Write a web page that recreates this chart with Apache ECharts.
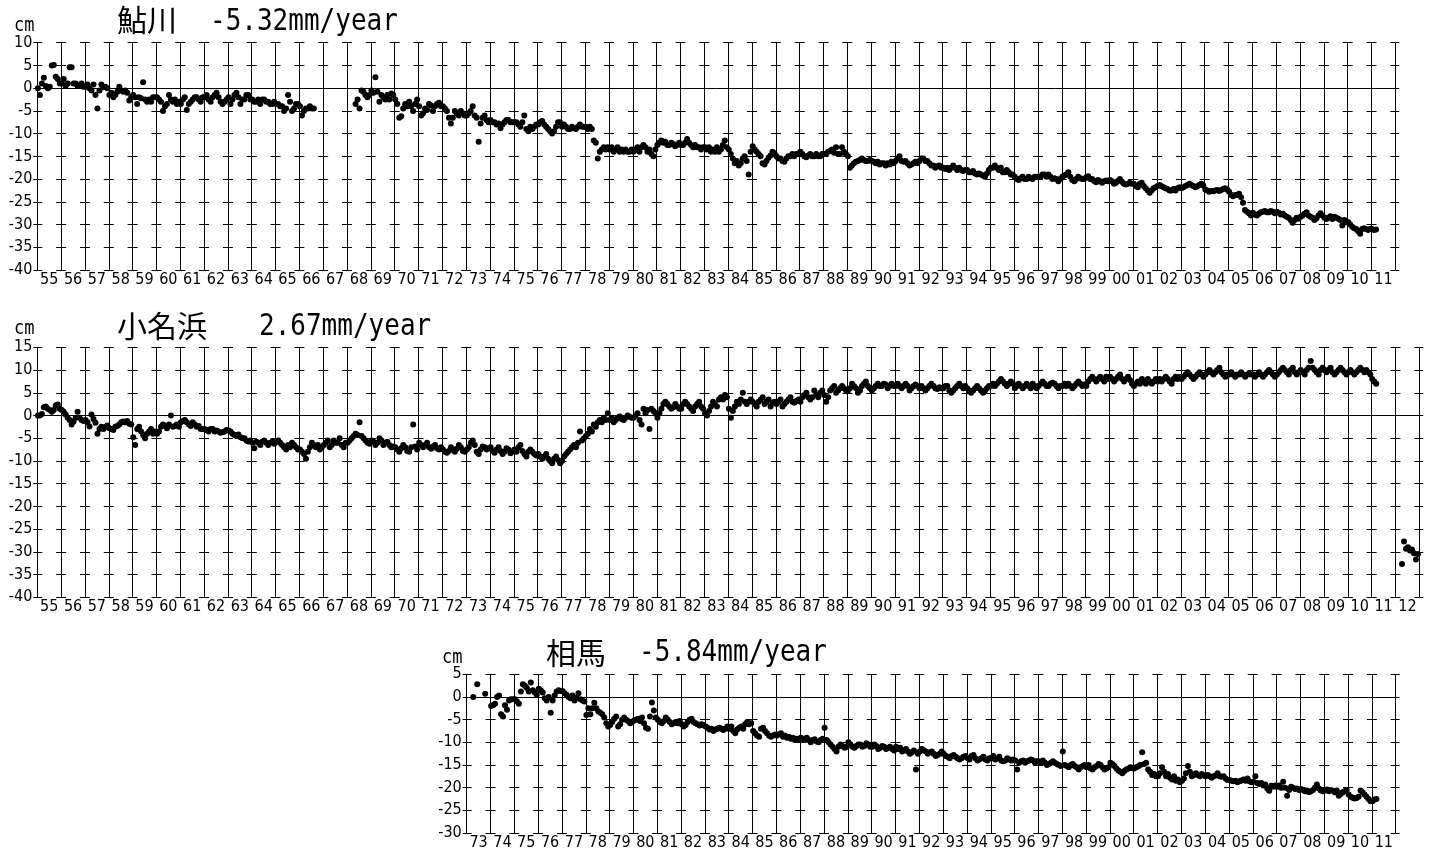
<!DOCTYPE html>
<html><head><meta charset="utf-8">
<script src="https://cdn.jsdelivr.net/npm/echarts@6/dist/echarts.min.js"></script>
<style>html,body{margin:0;padding:0;background:#fff}#c{width:1432px;height:854px}</style>
</head><body><div id="c"></div>
<script>
// ---------- DATA: monthly mean sea level (cm), one row per year ----------
const ayukawaStart = 1955;
const ayukawa = [
[0,-1.5,1,2.3,0.5,0,0.3,5,5.1,2.5,2,1],
[1,2,0.5,1,4.6,4.6,1,1,0.5,0.7,1,0.3],
[0.3,0.8,0,-0.5,0.8,-1.5,-4.5,-0.5,0.8,0.2,0.3,0],
[-1.5,-1,-2,-1.5,-0.8,0.3,-0.5,-0.8,-0.5,-1,-2.7,-2],
[-1.5,-2,-3.5,-2,-2.2,1.3,-2.5,-3,-2.5,-3,-2,-2],
[-2,-2.5,-3,-5,-4,-3.5,-1.5,-2.5,-3,-2.5,-3.5,-3],
[-3.5,-2.5,-2,-4.8,-3.5,-3,-2.5,-2,-2,-2.5,-3,-2],
[-2,-1.5,-2.5,-3,-2,-1.5,-1,-2,-3,-3.5,-3,-2.5],
[-2,-3.5,-2.5,-1.5,-1,-2,-3.5,-2.5,-2.5,-1.5,-1.5,-2.5],
[-2.5,-3,-3,-2.5,-3.5,-2.5,-2.5,-3,-3,-3.5,-3.5,-3],
[-3.5,-3.5,-4,-4,-5,-4.5,-1.5,-3,-5,-4.5,-3.5,-3.5],
[-4,-6,-5,-4.5,-4.5,-4,-4.5,-4.5,null,null,null,null],
[null,null,null,null,null,null,null,null,null,null,null,null],
[null,null,null,null,-3.5,-2.5,-4.5,-0.5,-0.8,-1.5,-2,-1.5],
[-0.5,-1,2.4,-0.8,-3,-1.5,-2,-2.5,-1.5,-2.5,-1.2,-1.5],
[-2.5,-3.5,-6.5,-6.2,-4.5,-3.5,-4,-3,-4,-5,-3.5,-2.5],
[-4,-6,-5.5,-4.5,-4.8,-3.5,-3.8,-5,-4,-3.5,-3.2,-4],
[-4,-4.5,-5,-6.5,-7.8,-6.5,-5,-5.5,-6,-5,-5.5,-6],
[-6,-5.5,-5,-4,-6,-6.5,-11.8,-7.8,-6.5,-6,-7,-7.5],
[-7,-7.5,-7.5,-8,-7.8,-8.8,-8,-7.5,-7,-7,-7.5,-7.5],
[-7.5,-7.5,-8,-8.5,-7.5,-6,-9,-9.5,-8.5,-9,-8.5,-8],
[-8,-7.5,-7.2,-8,-8.5,-9,-9.5,-10,-9.5,-8.5,-7.5,-7.5],
[-8.5,-8,-8.5,-9,-9,-8.5,-8.8,-9,-8.5,-8,-8.5,-8.5],
[-8.5,-9,-8.5,-9,-11.5,-12,-15.5,-14,-13.5,-13,-13.5,-13],
[-13.5,-13,-14,-13.5,-13,-14,-13.5,-14,-13.5,-14,-14,-13.5],
[-14,-13.5,-13,-14,-13,-12.5,-13,-14,-13.5,-14.5,-15,-13.5],
[-12.5,-12,-11.5,-12,-11.8,-12.5,-12.5,-12,-12.3,-12.8,-12.5,-12],
[-12.5,-12.5,-12,-11.2,-12,-12.5,-13,-12.5,-13,-13,-13.5,-13],
[-13,-13.5,-13,-14,-13.5,-14,-13,-14,-13.5,-12.5,-11.5,-13],
[-13.5,-14.5,-15.5,-16.5,-16,-17,-16.5,-15.5,-15,-16,-19,-14],
[-12.8,-13.5,-14,-14.5,-15,-16.5,-16.8,-16,-15.3,-14.8,-14,-14.3],
[-15,-15.5,-15.5,-16,-16.2,-15.5,-15,-15,-14.5,-15,-14.5,-14.5],
[-14,-14.5,-15,-15.2,-14.8,-14.5,-15,-15,-14.5,-15,-15,-14.5],
[-14.5,-14.5,-14,-13.8,-13.5,-14.2,-13,-14.5,-14.5,-13,-14,-14.5],
[-15,-17.5,-17,-16.5,-16.2,-16,-15.8,-15.5,-15.8,-16,-16,-15.8],
[-16,-16.2,-16.5,-16.2,-16.8,-16.5,-16.5,-17,-16.5,-16.8,-16.2,-16.5],
[-16,-15.5,-15,-16,-16.2,-16,-16.5,-17,-16.8,-16.5,-16.2,-16.5],
[-16,-15.5,-15.5,-16,-16,-16.5,-17,-17,-17.5,-17.2,-17,-17.5],
[-17.5,-17.8,-17.5,-18,-17.5,-17,-17.5,-18,-17.5,-18,-18.2,-18],
[-18,-18.5,-18.5,-18.2,-18.8,-19,-18.8,-19,-19.2,-19.5,-18.8,-18],
[-17.5,-17.5,-17,-17.5,-18,-17.5,-18.5,-18.5,-18,-18.5,-19,-19],
[-19.5,-20,-20.2,-19.8,-19.5,-20,-20,-19.5,-19.8,-20,-19.5,-19.5],
[-19.5,-19.5,-19,-19,-19.5,-19,-19.5,-20,-19.8,-20,-20.5,-20],
[-19.5,-19.2,-19,-18.5,-19.5,-20.2,-20.5,-20,-19.5,-19.8,-20,-20],
[-19.6,-19.4,-20,-20,-20.4,-20.7,-20.2,-20.5,-20.8,-20.5,-20.3,-20.5],
[-20.2,-20.5,-21,-20.8,-20.4,-20,-20.6,-21,-21.2,-21,-20.8,-21],
[-21,-21.5,-21.8,-21,-20.8,-21.5,-22,-22.5,-23,-22.5,-22,-21.8],
[-21.5,-21.3,-21.6,-21.8,-22,-22.2,-22.5,-22.5,-22.2,-22.5,-22,-21.8],
[-22,-21.8,-21.5,-21.3,-21,-21.3,-21.5,-21.8,-21.6,-21.3,-21,-21.4],
[-22.3,-22.5,-22.8,-22.6,-22.7,-22.5,-22.4,-22.6,-22.4,-22.2,-22,-22.3],
[-22.8,-23.5,-23.8,-23.5,-23.5,-23.2,-24,-25.2,-26.8,-27.2,-27.5,-28],
[-27.4,-27.8,-28,-27.6,-27.3,-27.2,-27,-27.3,-27.3,-27,-27.2,-27.5],
[-27.2,-27.4,-27.8,-27.6,-28,-28.3,-28.5,-29,-29.6,-29,-28.5,-28.7],
[-28.3,-28,-27.6,-27.3,-28,-28.3,-28.5,-29,-28.6,-28,-27.5,-28],
[-28.5,-28.8,-28.5,-28.2,-28.8,-28.3,-28.5,-28.7,-29,-30.2,-29,-29.5],
[-29.5,-30,-30.5,-30.8,-31,-31.5,-32,-31,-30.8,-31,-31.2,-31],
[-31,-31.2,-31.1]
];
const onahamaStart = 1955;
const onahama = [
[0,0,0.3,1.8,2,1.5,1.2,0.8,1.2,2.2,2.4,1.5],
[1.2,0.8,0.2,-0.5,-1,-2,-1.3,-0.5,0.8,-0.5,-1,-1.2],
[-1,-1.5,-2.4,0.2,-0.8,-1.6,-4,-3,-2.5,-3,-2.5,-2.2],
[-2.8,-3,-3.2,-2.5,-2.3,-2,-1.5,-1.3,-1.5,-1.2,-1.8,-2],
[-4.8,-6.5,-3,-2.5,-3.5,-4.3,-5,-4,-3.5,-3,-4,-3.5],
[-4,-3.5,-2.5,-2,-2.3,-2.8,-2,0,-2.5,-2.3,-2,-2.5],
[-1.5,-1.2,-1,-1.5,-2,-2.3,-1.5,-2,-2.5,-2.3,-3,-3],
[-3,-3.2,-3.5,-3,-3,-3.5,-3.3,-3.5,-3.8,-3.7,-3.5,-3.2],
[-3.3,-3.5,-4,-4.3,-4.5,-4.2,-4.8,-5,-5,-5.5,-5.7,-5.5],
[-6,-7.2,-5.8,-6,-6.5,-5.8,-5.5,-6,-6.5,-6,-5.8,-6.2],
[-5.8,-5.5,-6,-6.5,-7,-7.5,-6.5,-7,-6,-6.5,-7,-7.5],
[-7.5,-8,-8.5,-9.5,-8,-7,-6,-6.5,-7,-6.5,-7.5,-7],
[-6.5,-6,-5.5,-7,-6.5,-5.5,-6,-6,-5,-6.5,-7,-6],
[-6,-5.5,-5,-4.5,-4,-4.3,-1.5,-4.5,-5,-5.5,-6,-6.2],
[-5.5,-5.8,-6.5,-6,-5,-5.5,-6.5,-6,-5.8,-6.5,-7,-6.8],
[-7,-7.5,-8,-7.2,-6.5,-7,-7.8,-8,-7,-2,-6.8,-7.5],
[-6,-6.5,-7,-6.5,-6,-7,-7.3,-6.8,-6.5,-7.2,-7.5,-7],
[-7.5,-8,-8.2,-7.8,-7,-7.5,-8,-7.3,-6.5,-7,-7.8,-8],
[-7.5,-7,-6,-5.5,-6.5,-8,-8.5,-7.5,-6.8,-7,-7.5,-7.2],
[-7,-7.8,-8.2,-7.5,-7,-7.8,-8.5,-8,-7.2,-7.5,-8.3,-8],
[-7.5,-8,-7,-6.5,-7.8,-8.5,-9,-8,-7.5,-8,-8.5,-8.8],
[-8.5,-9,-9.5,-9,-8.5,-9.5,-10,-10.5,-9.5,-9,-9.8,-10.5],
[-10,-9,-8.5,-8,-7.5,-7,-6.5,-7,-6,-3.5,-5.5,-5],
[-4.5,-4,-3,-3.5,-2,-2.5,-1.5,-1,-1.5,-0.5,-1,0.5],
[-1,-0.5,-1.5,-1,-0.5,-0.2,-0.8,-1,-0.5,0,-0.3,-0.5],
[-0.5,0,0.5,-1,-2,1.5,0.5,1.2,-3,1.5,1,0.5],
[-0.5,0.5,1.5,2.5,3,2.5,2,1.5,1.8,2.5,2,1.5],
[1.5,2.5,3,2.5,2,1.5,1,2,2.5,3,2,1.5],
[0.5,0,1,2,3,2.5,2,3.5,4,3.5,4.5,4],
[1.5,-0.5,1,2,3,2.5,3.5,5,3,2.5,3,3.5],
[3,2.5,2,3,3.5,4,2.5,3,3.5,2,2.8,3],
[2.5,3,3.5,2,2.5,3,3.5,4,3,2.8,3.2,3.5],
[3,4,4.5,5,4,3.5,4,5.5,4.5,4,5,5.5],
[4.5,3,4,5.5,6,6.5,5,5.5,6,6.5,6,5.5],
[5.5,6,7,6.5,6,5,5.5,6.5,7,7.5,6.5,6],
[5.5,6,6.5,7,6.5,6.5,7,6.8,6,6.5,7,6.5],
[6.5,7,6.5,6,6.5,7,6.5,5.5,6,6.5,6.8,6.5],
[6,6.5,6,5.5,6,6.5,7,6.5,6,5.8,6.2,6],
[6,6.5,6.5,5.5,5,5.5,6,6.5,7,6.5,6,6.5],
[6,5.5,5,5.5,6,6.5,6,5.5,5,5.5,6,6.5],
[6.5,7,6.5,7,7.5,8,7.5,7,6.5,7,7.5,7],
[6,6.5,7,6.5,6,6.5,7,6.5,6,7,6.5,6],
[6.5,7,7.5,7,6.5,6.5,7,7.2,7,6.5,6,6.5],
[6.5,7,6.5,7,6.5,6,6.5,7,7.5,7,6.5,6.8],
[6.5,7.5,8,8.5,8,7.5,8,8.5,8,7.5,8.5,8],
[8.5,8,7.5,8,8.5,9,8,7.5,8,8.5,7.8,7],
[6.5,7,7.5,7,8,7.5,7,8,7.5,7,7.5,8],
[7.5,8,7.5,8,8.5,8,7.5,7,8,8.5,8,8.5],
[8,8.5,9,9.5,9,8.5,8,8.5,9,9.5,9,8.5],
[9,9.5,10,9.5,9,9.5,10,10.5,9.5,9,8.5,9],
[9,9.5,9,8.5,9,9,9.5,9,8.5,9,9.2,9],
[9,8.5,9,9.5,9,8.5,9,9.5,10,9.5,9,8.5],
[9,9.5,10,10.5,10,9.5,9,10,10.5,9.5,9,9.5],
[10,9.5,9,10,10.5,12,10.5,10,9.5,9,10,10.5],
[10,9.5,10,10.5,9.5,9,9.5,10,10.5,10,9.5,9],
[9.5,10,9.5,9,9.5,10,10.5,10,9.5,10,9.5,9],
[8,7.5,7],
[null,null,null,-32.7,-27.7,-29.3,-29,-29.7,-29.5,-30.3,-31.7,-30.5]
];
const somaStart = 1973;
const soma = [
[null,null,null,0,null,2.8,null,null,null,0.7,null,null],
[-2,-1.8,-1.5,0,0.3,-3.8,-4.3,-1.8,-2.8,-0.8,-0.5,-0.5],
[-0.5,-1,-1.5,1.2,2.8,2.5,2,1.2,3.2,1.5,1,0.5],
[1.8,1.5,1,-0.3,-0.8,0,-3.5,-0.8,0.3,1.2,1.5,1.3],
[1.3,0.8,0.5,0,-0.3,0.3,-0.8,-0.2,0.8,-0.5,-0.8,-1],
[-4,-2.5,-3.8,-2.5,-1.3,-2.5,-3.2,-3.5,-3.8,-4.5,-5.8,-6.5],
[-6.2,-5.5,-4.8,-4.3,-6.5,-6,-5,-4.5,-5,-5.3,-5.8,-5.5],
[-5.2,-5,-4.8,-5.3,-4.5,-5.8,-6.8,-7,-4.3,-1.2,-3,-4.5],
[-5,-5.5,-5.8,-5.3,-4.5,-5,-5.5,-6,-5.8,-5.5,-5.8,-5.3],
[-6,-6.5,-6.2,-5.5,-5,-4.8,-5.5,-5.8,-6,-6.3,-6,-6.2],
[-6.5,-6.8,-7.2,-7,-7.5,-7.2,-7,-6.8,-7,-7.3,-7,-6.5],
[-7,-6.5,-7.5,-8,-7.2,-6.8,-6.5,-7,-6,-5.5,-6,-5.8],
[-7.5,-8,-8.5,-8.8,-7,-6.8,-7.5,-8,-8.5,-8.8,-8.5,-8.3],
[-8.5,-8.2,-8,-8.8,-8.5,-9,-8.8,-9.2,-9,-9.5,-9.2,-9.5],
[-9,-9.2,-9.5,-9,-9.5,-10,-9.5,-9.3,-9.8,-10,-9.5,-9.2],
[-6.8,-9.5,-10,-10.5,-11,-11.5,-12,-11,-10.5,-10.8,-11.2,-11],
[-10,-10.5,-11,-11.2,-10.8,-10.5,-10.5,-11,-10.8,-10.2,-10.5,-11],
[-11,-10.5,-10.8,-11.5,-11.2,-10.8,-11,-11.5,-11.2,-11,-11.5,-11.8],
[-11,-11.5,-11.2,-12,-11.8,-11.5,-12,-12.5,-12.2,-11.8,-16,-12.5],
[-12,-11.5,-11.8,-12,-12.5,-12.2,-12,-12.5,-13,-12.8,-12.5,-12],
[-12.5,-13,-13.2,-13.5,-13,-12.8,-13.2,-13.5,-13.8,-13.5,-13.2,-13],
[-13.5,-13.8,-13,-12.8,-13.5,-14,-13.8,-13.5,-13.2,-13.8,-14,-13.5],
[-13.5,-13,-13.8,-13.5,-13.2,-14,-14.2,-14,-13.5,-13.8,-14,-13.8],
[-14,-16,-14.5,-14.2,-14,-14.5,-14.2,-14,-13.8,-14,-14.5,-14.2],
[-14.2,-14.5,-14,-14.5,-15,-14.8,-14.5,-14.2,-14.5,-14.8,-15,-15.2],
[-12,-15,-15.2,-15.5,-15,-14.8,-15.2,-15.5,-16,-15.5,-15.2,-15],
[-15.5,-15,-15.8,-16,-15.5,-15.2,-14.8,-15,-15.5,-16,-15.8,-15.5],
[-14.5,-14.8,-15.2,-15.8,-16.2,-16.5,-16.8,-16.3,-16,-15.8,-15.5,-15.7],
[-15.8,-15.5,-15.3,-15,-12.2,-14.8,-14.5,-16,-16.5,-17.2,-17,-17.5],
[-17.5,-16.8,-15.5,-16.5,-17.5,-17,-17.8,-18.2,-17.5,-18.5,-18.2,-18.8],
[-18.5,-18,-16.8,-15.2,-16.5,-17.5,-17.2,-16.8,-17.2,-17.5,-17,-17.3],
[-17.5,-17.2,-17.5,-17.8,-17.5,-17.3,-16.8,-17.5,-17.6,-17.5,-18,-18.3],
[-18.3,-18.5,-18.6,-18.5,-18.8,-18.6,-18.4,-18.2,-18.5,-18,-18.6,-18.8],
[-18.7,-17.5,-19,-19.2,-19,-19.5,-19.3,-20.2,-20.7,-19.6,-19.8,-19.5],
[-19.8,-19.5,-20,-18.7,-20,-21.8,-20.5,-19.8,-20,-20.3,-20.2,-20.5],
[-20.3,-20.5,-20.8,-20.6,-21,-20.8,-20.5,-20,-19.3,-20.2,-20.6,-20.8],
[-20.6,-20.4,-20.8,-20.5,-20.7,-21,-20.6,-21.8,-21.4,-21,-20.8,-20.5],
[-21.5,-22,-22.2,-22.4,-22.3,-22,-20.6,-21,-21.5,-22,-22.5,-23],
[-23,-22.6,-22.5]
];
// tick labels
const ayukawaLabels = ['55','56','57','58','59','60','61','62','63','64','65','66','67','68','69','70','71','72','73','74','75','76','77','78','79','80','81','82','83','84','85','86','87','88','89','90','91','92','93','94','95','96','97','98','99','00','01','02','03','04','05','06','07','08','09','10','11'];
const onahamaLabels = ayukawaLabels.concat(['12']);
const somaLabels = ['73','74','75','76','77','78','79','80','81','82','83','84','85','86','87','88','89','90','91','92','93','94','95','96','97','98','99','00','01','02','03','04','05','06','07','08','09','10','11'];
const titles = [['鮎川','-5.32mm/year'],['小名浜','2.67mm/year'],['相馬','-5.84mm/year']];
const yRanges = [[-40,10],[-40,15],[-30,5]];

// ---------- LAYOUT ----------
const panels = [
  {rows: ayukawa, start: ayukawaStart, labels: ayukawaLabels, yr: yRanges[0], grid:{left:37.3, top:42.7, width:1358, height:227.3}},
  {rows: onahama, start: onahamaStart, labels: onahamaLabels, yr: yRanges[1], grid:{left:37.3, top:347.3, width:1382, height:250}},
  {rows: soma, start: somaStart, labels: somaLabels, yr: yRanges[2], grid:{left:466.7, top:674.3, width:929, height:158.7}}
];
const tickFont = '"Liberation Sans Narrow","DejaVu Sans Condensed",sans-serif';
const grids=[], xAxes=[], yAxes=[], series=[];
panels.forEach((p,k)=>{
  const nYears = p.labels.length;
  const step = p.grid.width / nYears;
  grids.push(p.grid);
  xAxes.push({type:'category', gridIndex:k, data:p.labels, boundaryGap:true,
    axisLine:{show:false}, axisTick:{show:false},
    axisLabel:{interval:0, margin:2, fontSize:16, fontFamily:tickFont, color:'#000'},
    splitLine:{show:true, interval:0, lineStyle:{color:'#000', width:1}}});
  xAxes.push({type:'value', gridIndex:k, min:p.start, max:p.start+nYears, show:false});
  yAxes.push({type:'value', gridIndex:k, min:p.yr[0], max:p.yr[1], interval:5,
    axisLine:{show:true, lineStyle:{color:'#000', width:1}},
    axisTick:{show:true, length:4, lineStyle:{color:'#000'}},
    axisLabel:{fontSize:16, fontFamily:tickFont, color:'#000', margin:5},
    splitLine:{show:true, lineStyle:{color:'#000', width:1, type:[10, step-10], dashOffset:5}}});
  yAxes.push({type:'value', gridIndex:k, position:'right', min:p.yr[0], max:p.yr[1], interval:5,
    axisLine:{show:false}, axisTick:{show:true, length:4, lineStyle:{color:'#000'}},
    axisLabel:{show:false}, splitLine:{show:false}});
  const pts=[];
  p.rows.forEach((row,i)=>row.forEach((v,m)=>{ if(v!==null) pts.push([p.start+i+(m+0.3)/12, v]); }));
  series.push({type:'scatter', xAxisIndex:2*k+1, yAxisIndex:2*k, data:pts, symbol:'circle', symbolSize:6,
    itemStyle:{color:'#000', opacity:1}, z:5,
    markLine:{silent:true, symbol:'none', label:{show:false}, animation:false,
      lineStyle:{color:'#000', type:'solid', width:1, opacity:1}, data:[{yAxis:0}]}});
});

const monoFont = '"DejaVu Sans Mono", monospace';
const cjkFont = '"Noto Sans CJK JP", sans-serif';
const textPos = [
  {cm:[14,25.5], name:[117,20], rate:[210,22]},
  {cm:[14,328.5], name:[117,326], rate:[259,327.5]},
  {cm:[442,658], name:[546,652.5], rate:[639,653.5]}
];
const graphic=[];
textPos.forEach((t,k)=>{
  graphic.push({type:'text', x:t.cm[0], y:t.cm[1], scaleY:1.15, style:{text:'cm', font:'17px '+monoFont, fill:'#000', verticalAlign:'middle'}});
  graphic.push({type:'text', x:t.name[0], y:t.name[1], style:{text:titles[k][0], font:'30px '+cjkFont, fill:'#000', verticalAlign:'middle'}});
  graphic.push({type:'text', x:t.rate[0], y:t.rate[1], scaleY:1.18, style:{text:titles[k][1], font:'26px '+monoFont, fill:'#000', verticalAlign:'middle'}});
});

const chart = echarts.init(document.getElementById('c'), null, {renderer:'canvas'});
chart.setOption({animation:false, backgroundColor:'#fff', grid:grids, xAxis:xAxes, yAxis:yAxes, series:series, graphic:graphic});
</script></body></html>
